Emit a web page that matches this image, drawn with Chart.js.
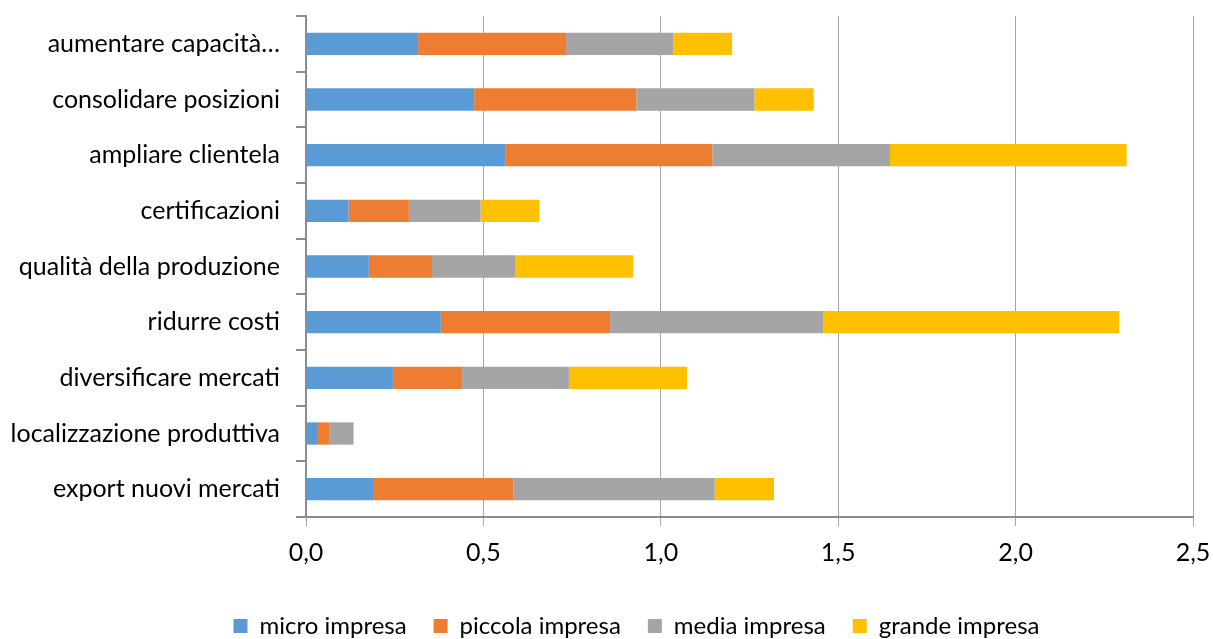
<!DOCTYPE html>
<html lang="it">
<head>
<meta charset="utf-8">
<title>Obiettivi per dimensione d'impresa</title>
<script src="https://cdn.jsdelivr.net/npm/chart.js@4/dist/chart.umd.min.js"></script>
<style>
  html, body { margin: 0; padding: 0; background: #ffffff; }
  #frame { width: 1213px; height: 639px; overflow: hidden; position: relative; }
  #box { width: 1213px; height: 648px; position: absolute; left: 0; top: 0; }
</style>
</head>
<body>
<div id="frame"><div id="box"><canvas id="chart"></canvas></div></div>
<script>
// Categories (top to bottom) and one value list per company size
const categories = [
  'aumentare capacità…',
  'consolidare posizioni',
  'ampliare clientela',
  'certificazioni',
  'qualità della produzione',
  'ridurre costi',
  'diversificare mercati',
  'localizzazione produttiva',
  'export nuovi mercati'
];
const microImpresa   = [0.316, 0.474, 0.563, 0.120, 0.177, 0.380, 0.245, 0.031, 0.189];
const piccolaImpresa = [0.417, 0.457, 0.582, 0.170, 0.178, 0.477, 0.195, 0.036, 0.396];
const mediaImpresa   = [0.302, 0.333, 0.501, 0.202, 0.234, 0.601, 0.301, 0.067, 0.567];
const grandeImpresa  = [0.166, 0.167, 0.667, 0.166, 0.333, 0.834, 0.333, 0.000, 0.167];
const seriesNames = ['micro impresa', 'piccola impresa', 'media impresa', 'grande impresa'];
const xTickLabels = ['0,0', '0,5', '1,0', '1,5', '2,0', '2,5'];

const seriesColors = ['#5B9BD5', '#ED7D31', '#A5A5A5', '#FFC000'];
const FONT = 'Lato, "Liberation Sans", sans-serif';
const FONT_SIZE = 25;
const LEGEND_FONT_SIZE = 24;
const LEGEND_SHIFT = 40;
const PLOT_LEFT = 306;
const PLOT_BOTTOM = 517;
const axisGray = '#8c8c8c';
const gridGray = '#a6a6a6';

const values = [microImpresa, piccolaImpresa, mediaImpresa, grandeImpresa];
const datasets = seriesNames.map((name, i) => ({
  label: name,
  data: values[i],
  backgroundColor: seriesColors[i],
  borderWidth: 0,
  barPercentage: 0.4,
  categoryPercentage: 1.0
}));

// Centre the legend under the plot area rather than the whole canvas
const legendOffset = {
  id: 'legendOffset',
  afterLayout(chart) {
    if (chart.legend) {
      chart.legend.left += LEGEND_SHIFT;
      chart.legend.right += LEGEND_SHIFT;
    }
  }
};

new Chart(document.getElementById('chart'), {
  type: 'bar',
  data: { labels: categories, datasets },
  plugins: [legendOffset],
  options: {
    indexAxis: 'y',
    responsive: true,
    maintainAspectRatio: false,
    animation: false,
    layout: { padding: { top: 16, right: 20, left: 0, bottom: 0 } },
    plugins: {
      legend: {
        position: 'bottom',
        labels: {
          boxWidth: 14,
          boxHeight: 14,
          padding: 27,
          color: '#000000',
          font: { family: FONT, size: LEGEND_FONT_SIZE }
        }
      },
      tooltip: { enabled: false }
    },
    scales: {
      x: {
        stacked: true,
        min: 0,
        max: 2.5,
        ticks: {
          stepSize: 0.5,
          color: '#000000',
          padding: 12,
          font: { family: FONT, size: FONT_SIZE },
          callback: (v, i) => xTickLabels[i]
        },
        grid: { color: gridGray, lineWidth: 1, tickLength: 9, tickColor: gridGray },
        border: { color: axisGray, width: 2 },
        afterFit: (scale) => {
          // plot area is fixed by the layout padding, not by label overflow
          scale.paddingLeft = 0;
          scale.paddingRight = 0;
          scale.height = scale.chart.height - PLOT_BOTTOM - scale.chart.legend.height;
        }
      },
      y: {
        stacked: true,
        ticks: {
          color: '#000000',
          padding: 16,
          font: { family: FONT, size: FONT_SIZE }
        },
        grid: { offset: true, drawOnChartArea: false, tickLength: 10, color: axisGray, lineWidth: 2 },
        border: { color: axisGray, width: 2 },
        afterFit: (scale) => {
          scale.paddingTop = 0;
          scale.paddingBottom = 0;
          scale.width = PLOT_LEFT;
        }
      }
    }
  }
});
</script>
</body>
</html>
